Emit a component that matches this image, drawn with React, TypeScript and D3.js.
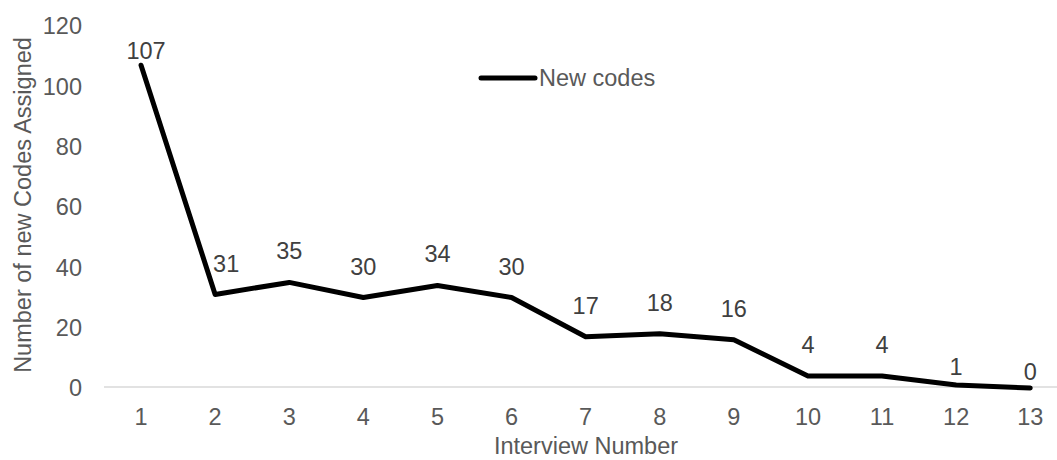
import React, { useEffect, useRef } from "react";
import * as d3 from "d3";

const interviews = ["1", "2", "3", "4", "5", "6", "7", "8", "9", "10", "11", "12", "13"];
const newCodes = [107, 31, 35, 30, 34, 30, 17, 18, 16, 4, 4, 1, 0];
const yTicks = [0, 20, 40, 60, 80, 100, 120];
const seriesName = "New codes";

const App = () => {
  const ref = useRef<SVGSVGElement>(null);

  useEffect(() => {
    const width = 1057;
    const height = 460;
    const margin = { left: 104, top: 26, bottom: 72 };
    const font = "'Liberation Sans', Arial, sans-serif";
    const textColor = "#595959";
    const fs = 23.5;

    const svg = d3.select(ref.current);
    svg.selectAll("*").remove();

    const x = d3
      .scaleBand()
      .domain(interviews)
      .range([margin.left, margin.left + 74.1 * interviews.length]);

    const y = d3
      .scaleLinear()
      .domain([0, 120])
      .range([height - margin.bottom, margin.top]);

    const cx = (i: number) => (x(interviews[i]) as number) + x.bandwidth() / 2;

    // y tick labels (no gridlines)
    svg
      .append("g")
      .selectAll("text")
      .data(yTicks)
      .enter()
      .append("text")
      .attr("x", 82)
      .attr("y", (d) => y(d))
      .attr("dy", "0.35em")
      .attr("text-anchor", "end")
      .attr("fill", textColor)
      .style("font-family", font)
      .style("font-size", fs + "px")
      .text((d) => d);

    // x axis line
    svg
      .append("line")
      .attr("x1", x.range()[0])
      .attr("x2", x.range()[1])
      .attr("y1", y(0) - 1)
      .attr("y2", y(0) - 1)
      .attr("stroke", "#d9d9d9")
      .attr("stroke-width", 1.5);

    // x tick labels
    svg
      .append("g")
      .selectAll("text")
      .data(interviews)
      .enter()
      .append("text")
      .attr("x", (d, i) => cx(i))
      .attr("y", 425)
      .attr("text-anchor", "middle")
      .attr("fill", textColor)
      .style("font-family", font)
      .style("font-size", fs + "px")
      .text((d) => d);

    // axis titles
    svg
      .append("text")
      .attr("x", 586)
      .attr("y", 454)
      .attr("text-anchor", "middle")
      .attr("fill", textColor)
      .style("font-family", font)
      .style("font-size", fs + "px")
      .text("Interview Number");

    svg
      .append("text")
      .attr("transform", "translate(31,205) rotate(-90)")
      .attr("text-anchor", "middle")
      .attr("fill", textColor)
      .style("font-family", font)
      .style("font-size", fs + "px")
      .text("Number of new Codes Assigned");

    // the line
    const line = d3
      .line<number>()
      .x((d, i) => cx(i))
      .y((d) => y(d));

    svg
      .append("path")
      .datum(newCodes)
      .attr("fill", "none")
      .attr("stroke", "#000")
      .attr("stroke-width", 5)
      .attr("stroke-linejoin", "round")
      .attr("stroke-linecap", "round")
      .attr("d", line);

    // data labels, nudged where excel moved them
    const nudge: Record<number, [number, number]> = {
      0: [5, -6],
      1: [11, -22],
      11: [0, -10],
      12: [0, -8],
    };
    svg
      .append("g")
      .selectAll("text")
      .data(newCodes)
      .enter()
      .append("text")
      .attr("x", (d, i) => cx(i) + (nudge[i] ? nudge[i][0] : 0))
      .attr("y", (d, i) => y(d) + (nudge[i] ? nudge[i][1] : -23))
      .attr("text-anchor", "middle")
      .attr("fill", "#404040")
      .style("font-family", font)
      .style("font-size", fs + "px")
      .text((d) => d);

    // legend
    svg
      .append("line")
      .attr("x1", 481)
      .attr("x2", 535)
      .attr("y1", 78)
      .attr("y2", 78)
      .attr("stroke", "#000")
      .attr("stroke-width", 5)
      .attr("stroke-linecap", "round");
    svg
      .append("text")
      .attr("x", 539)
      .attr("y", 78)
      .attr("dy", "0.35em")
      .attr("fill", textColor)
      .style("font-family", font)
      .style("font-size", fs + "px")
      .text(seriesName);
  }, []);

  return (
    <div style={{ position: "absolute", left: 0, top: 0 }}>
      <svg ref={ref} width={1057} height={460} style={{ display: "block" }}></svg>
    </div>
  );
};

export default App;
